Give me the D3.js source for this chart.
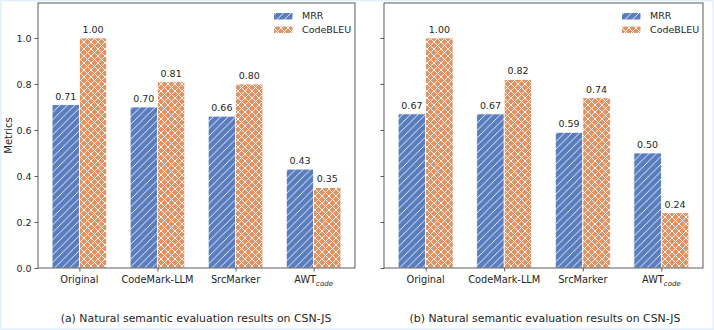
<!DOCTYPE html>
<html>
<head>
<meta charset="utf-8">
<script src="https://cdn.jsdelivr.net/npm/d3@7"></script>
<style>
  body { margin: 0; background: #fff; }
  svg text { font-family: "DejaVu Sans", sans-serif; fill: #262626; }
</style>
</head>
<body>
<div id="chart"></div>
<script>
const methods = ["Original", "CodeMark-LLM", "SrcMarker", "AWT"]
const seriesNames = ["MRR", "CodeBLEU"]
const mrrA = [0.71, 0.70, 0.66, 0.43]
const bleuA = [1.00, 0.81, 0.80, 0.35]
const mrrB = [0.67, 0.67, 0.59, 0.50]
const bleuB = [1.00, 0.82, 0.74, 0.24]
const yTicks = [0, 0.2, 0.4, 0.6, 0.8, 1.0]
const captions = [
    "(a) Natural semantic evaluation results on CSN-JS",
    "(b) Natural semantic evaluation results on CSN-JS"
]

const width = 714, height = 330
const colors = ["#5a7dbf", "#e39264"]

const svg = d3.select("#chart").append("svg")
    .attr("width", width)
    .attr("height", height)

// faint frame round the figure
svg.append("rect")
    .attr("x", 0.75).attr("y", 0.75)
    .attr("width", width - 1.5).attr("height", height - 1.5)
    .attr("fill", "none")
    .attr("stroke", "#e3f0f9")
    .attr("stroke-width", 1.5)

const defs = svg.append("defs")

// "//" hatch for MRR
const hs = 7.5
const p1 = defs.append("pattern")
    .attr("id", "hatch-mrr")
    .attr("patternUnits", "userSpaceOnUse")
    .attr("width", hs).attr("height", hs)
p1.append("rect").attr("width", hs).attr("height", hs).attr("fill", colors[0])
p1.append("path")
    .attr("d", `M-1,1 L1,-1 M0,${hs} L${hs},0 M${hs - 1},${hs + 1} L${hs + 1},${hs - 1}`)
    .attr("stroke", "#fff").attr("stroke-width", 0.85)

// "xx" hatch for CodeBLEU
const cs = 7
const p2 = defs.append("pattern")
    .attr("id", "hatch-bleu")
    .attr("patternUnits", "userSpaceOnUse")
    .attr("width", cs).attr("height", cs)
p2.append("rect").attr("width", cs).attr("height", cs).attr("fill", colors[1])
p2.append("path")
    .attr("d", `M-1,1 L1,-1 M0,${cs} L${cs},0 M${cs - 1},${cs + 1} L${cs + 1},${cs - 1} ` +
        `M-1,${cs - 1} L1,${cs + 1} M0,0 L${cs},${cs} M${cs - 1},-1 L${cs + 1},1`)
    .attr("stroke", "#fff").attr("stroke-width", 0.9)

const fills = ["url(#hatch-mrr)", "url(#hatch-bleu)"]

const panels = [
    { left: 38, right: 355, series: [mrrA, bleuA], caption: captions[0], labels: true, cx: 196 },
    { left: 384, right: 703, series: [mrrB, bleuB], caption: captions[1], labels: false, cx: 545 }
]

const plotTop = 3, plotBottom = 268

const y = d3.scaleLinear().domain([0, 1.152]).range([plotBottom, plotTop])

panels.forEach(p => {
    const x = d3.scaleLinear().domain([-0.53, 3.53]).range([p.left, p.right])
    const bw = 0.35 * (x(1) - x(0))
    const g = svg.append("g")

    // bars
    p.series.forEach((vals, si) => {
        const off = si === 0 ? -bw : 0
        g.selectAll(null)
            .data(vals)
            .join("rect")
            .attr("x", (d, i) => x(i) + off)
            .attr("y", d => y(d))
            .attr("width", bw)
            .attr("height", d => y(0) - y(d))
            .attr("fill", fills[si])
            .attr("stroke", "#fff")
            .attr("stroke-width", 0.8)

        g.selectAll(null)
            .data(vals)
            .join("text")
            .attr("x", (d, i) => x(i) + off + bw / 2)
            .attr("y", d => y(d) - 5)
            .attr("text-anchor", "middle")
            .attr("font-size", 9.5)
            .text(d => d.toFixed(2))
    })

    // y axis
    const ya = g.append("g")
        .attr("transform", `translate(${p.left},0)`)
        .call(d3.axisLeft(y).tickValues(yTicks).tickSize(3.5).tickPadding(3)
            .tickFormat(p.labels ? d3.format(".1f") : ""))
    ya.select(".domain").remove()
    ya.selectAll("line").attr("stroke", "#333").attr("stroke-width", 0.8)
    ya.selectAll("text").attr("font-size", 9.5).attr("fill", "#262626")
        .style("font-family", "DejaVu Sans, sans-serif")

    // x axis
    const xa = g.append("g")
        .attr("transform", `translate(0,${plotBottom})`)
        .call(d3.axisBottom(x).tickValues(d3.range(methods.length)).tickSize(3.5).tickFormat(""))
    xa.select(".domain").remove()
    xa.selectAll("line").attr("stroke", "#333").attr("stroke-width", 0.8)

    methods.forEach((m, i) => {
        const t = g.append("text")
            .attr("x", x(i))
            .attr("y", 283)
            .attr("text-anchor", "middle")
            .attr("font-size", 9.8)
        if (m === "AWT") {
            t.append("tspan").text("AWT")
            t.append("tspan").attr("font-size", 7).attr("font-style", "italic")
                .attr("dy", 2.5).text("code")
        } else {
            t.text(m)
        }
    })

    // frame
    g.append("rect")
        .attr("x", p.left).attr("y", plotTop)
        .attr("width", p.right - p.left).attr("height", plotBottom - plotTop)
        .attr("fill", "none")
        .attr("stroke", "#333")
        .attr("stroke-width", 0.8)

    // legend
    const lg = g.append("g").attr("transform", `translate(${p.right - 81},0)`)
    seriesNames.forEach((s, si) => {
        lg.append("rect")
            .attr("x", 0).attr("y", 13 + si * 13.5)
            .attr("width", 18.5).attr("height", 6.5)
            .attr("fill", fills[si])
        lg.append("text")
            .attr("x", 28).attr("y", 19 + si * 13.5)
            .attr("font-size", 9.5)
            .text(s)
    })

    // caption
    g.append("text")
        .attr("x", p.cx).attr("y", 322)
        .attr("text-anchor", "middle")
        .attr("font-size", 10.9)
        .text(p.caption)
})

svg.append("text")
    .attr("transform", `translate(12,${(plotTop + plotBottom) / 2}) rotate(-90)`)
    .attr("text-anchor", "middle")
    .attr("font-size", 10)
    .text("Metrics")
</script>
</body>
</html>
